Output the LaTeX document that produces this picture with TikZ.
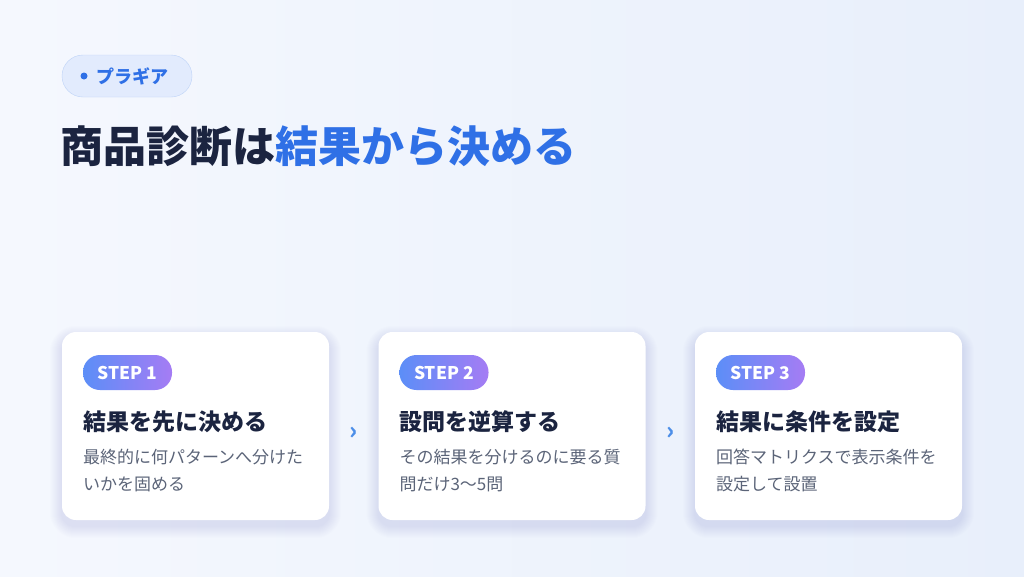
\documentclass[tikz,border=0pt]{standalone}
\usepackage{fontspec}
\setmainfont{Noto Sans CJK JP}
\usepackage{xcolor}
\usetikzlibrary{positioning,calc,backgrounds}
\definecolor{navy}{HTML}{1B2440}
\definecolor{titleblue}{HTML}{2F70E6}
\definecolor{tagfill}{HTML}{E2EBFD}
\definecolor{tagline}{HTML}{BED3F7}
\definecolor{stepA}{HTML}{5C8EF7}
\definecolor{stepB}{HTML}{A57CF4}
\definecolor{descgray}{HTML}{5B6478}
\definecolor{chevblue}{HTML}{4C8EE8}
\definecolor{shadowblue}{HTML}{3A4F80}
\definecolor{bgA}{HTML}{F5F8FE}
\definecolor{bgB}{HTML}{E8EFFB}
\tikzset{
card/.style = {rectangle, rounded corners=14pt, fill=white, minimum width=267pt, minimum height=188pt},
steppill/.style = {rectangle, rounded corners=17pt, left color=stepA, right color=stepB, text=white,
  font=\bfseries\fontsize{17.5}{17.5}\selectfont, minimum width=89pt, minimum height=35pt, inner sep=0pt},
ctitle/.style = {inner sep=0pt, text=navy, font=\bfseries\fontsize{23}{23}\selectfont},
cdesc/.style = {inner sep=0pt, align=left, text=descgray, font=\fontsize{17}{27}\selectfont},
chev/.style = {text=chevblue, font=\bfseries\fontsize{24}{24}\selectfont},
}

\begin{document}
\begin{tikzpicture}[x=1pt, y=-1pt]
    \useasboundingbox (0,0) rectangle (1024,576);

    % tag and headline
    \node[rectangle, rounded corners=21pt, fill=tagfill, draw=tagline, minimum width=130pt, minimum height=42pt] (tag) at (127,76) {};
    \node[circle, fill=titleblue, minimum size=7pt, inner sep=0pt] (tagdot) at (84,76) {};
    \node[anchor=west, inner sep=0pt, text=titleblue, font=\bfseries\fontsize{18}{18}\selectfont] (tagtext) at (96,76) {プラギア};
    \node[anchor=west, inner sep=0pt, font=\bfseries\fontsize{43}{43}\selectfont] (headline) at (60,146)
        {\textcolor{navy}{商品診断は}\textcolor{titleblue}{結果から決める}};

    % cards
    \node[card] (c1) at (195.5,426) {};
    \node[card] (c2) at (512,426) {};
    \node[card] (c3) at (828.5,426) {};

    \node[steppill, below right=23pt and 21pt of c1.north west] (s1) {STEP 1};
    \node[ctitle, below right=20pt and 0pt of s1.south west] (t1) {結果を先に決める};
    \node[cdesc, below right=16pt and 0pt of t1.south west] (d1) {最終的に何パターンへ分けた\\いかを固める};

    \node[steppill, below right=23pt and 21pt of c2.north west] (s2) {STEP 2};
    \node[ctitle, below right=20pt and 0pt of s2.south west] (t2) {設問を逆算する};
    \node[cdesc, below right=16pt and 0pt of t2.south west] (d2) {その結果を分けるのに要る質\\問だけ3〜5問};

    \node[steppill, below right=23pt and 21pt of c3.north west] (s3) {STEP 3};
    \node[ctitle, below right=20pt and 0pt of s3.south west] (t3) {結果に条件を設定};
    \node[cdesc, below right=16pt and 0pt of t3.south west] (d3) {回答マトリクスで表示条件を\\設定して設置};

    % chevrons between the cards
    \node[chev] (arr1) at ($(c1.east)!0.5!(c2.west)+(0,7)$) {›};
    \node[chev] (arr2) at ($(c2.east)!0.5!(c3.west)+(0,7)$) {›};

    % background and soft card shadows
    \begin{scope}[on background layer]
        \fill[left color=bgA, right color=bgB] (0,0) rectangle (1024,576);
        \foreach \c in {c1,c2,c3} {
            \foreach \k in {1,...,12} {
                \pgfmathsetmacro\rr{14+\k}
                \fill[shadowblue, opacity=0.007, rounded corners=\rr pt]
                    ($(\c.north west)+(-\k,-\k+6)$) rectangle ($(\c.south east)+(\k,\k+6)$);
            }
        }
    \end{scope}
\end{tikzpicture}
\end{document}
